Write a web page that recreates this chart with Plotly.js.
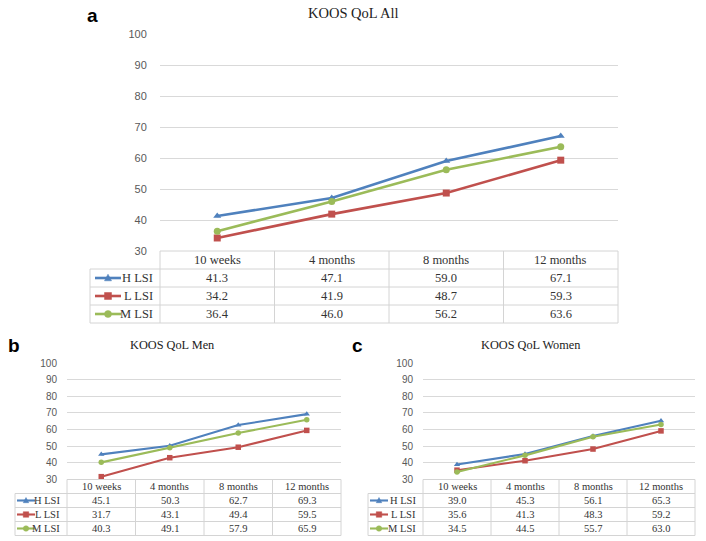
<!DOCTYPE html>
<html><head><meta charset="utf-8">
<script src="https://cdn.plot.ly/plotly-3.0.1.min.js"></script>
<style>html,body{margin:0;padding:0;background:#fff}#chart{width:706px;height:541px}</style>
</head><body><div id="chart"></div><script>
// ---- data ----
const categories = ['10 weeks', '4 months', '8 months', '12 months'];
const seriesNames = ['H LSI', 'L LSI', 'M LSI'];
const allH = [41.3, 47.1, 59.0, 67.1];
const allL = [34.2, 41.9, 48.7, 59.3];
const allM = [36.4, 46.0, 56.2, 63.6];
const menH = [45.1, 50.3, 62.7, 69.3];
const menL = [31.7, 43.1, 49.4, 59.5];
const menM = [40.3, 49.1, 57.9, 65.9];
const womenH = [39.0, 45.3, 56.1, 65.3];
const womenL = [35.6, 41.3, 48.3, 59.2];
const womenM = [34.5, 44.5, 55.7, 63.0];
const yTicks = [30, 40, 50, 60, 70, 80, 90, 100];
const panelTitles = ['KOOS QoL All', 'KOOS QoL Men', 'KOOS QoL Women'];
const panelLetters = ['a', 'b', 'c'];

// ---- styling ----
const colors = ['#4F81BD', '#C0504D', '#9BBB59'];
const symbols = ['triangle-up', 'square', 'circle'];
const W = 706, H = 541;
const px = x => x / W, py = y => 1 - y / H;
const SERIF = '"Liberation Serif", "Times New Roman", serif';
const SANS = '"Liberation Sans", Arial, sans-serif';
const GRID = '#D9D9D9', BORDER = '#D4D4D4', TXT = '#333333';

const panels = [
  {data: [allH, allL, allM], x0: 160, x1: 618, yTop: 34, yBot: 251, legL: 90, rowH: 18,
   lw: 2.6, ms: 7, tickSize: 11, tabSize: 12.5, titleSize: 14.5, titleX: 353, titleY: 13,
   letterX: 92, letterY: 15, standoff: 10, keyLen: 26, keyGap: 5},
  {data: [menH, menL, menM], x0: 67, x1: 341, yTop: 363, yBot: 479.5, legL: 15, rowH: 14,
   lw: 2.1, ms: 5.5, tickSize: 10, tabSize: 10.5, titleSize: 12.3, titleX: 172, titleY: 345,
   letterX: 14, letterY: 345, standoff: 7, keyLen: 18, keyGap: 2},
  {data: [womenH, womenL, womenM], x0: 423, x1: 695, yTop: 363, yBot: 479.5, legL: 368, rowH: 14,
   lw: 2.1, ms: 5.5, tickSize: 10, tabSize: 10.5, titleSize: 12.3, titleX: 530, titleY: 345,
   letterX: 358, letterY: 345, standoff: 7, keyLen: 18, keyGap: 2}
];

const traces = [], shapes = [], annotations = [];
const layout = {
  width: W, height: H, margin: {l: 0, r: 0, t: 0, b: 0},
  paper_bgcolor: '#fff', plot_bgcolor: '#fff', showlegend: false,
  shapes, annotations
};

panels.forEach((p, i) => {
  const n = i === 0 ? '' : String(i + 1);
  const xa = 'x' + n, ya = 'y' + n;
  layout['xaxis' + n] = {
    domain: [px(p.x0), px(p.x1)], type: 'category', categoryorder: 'array',
    categoryarray: categories, range: [-0.5, categories.length - 0.5],
    visible: false, anchor: ya, fixedrange: true
  };
  layout['yaxis' + n] = {
    domain: [py(p.yBot), py(p.yTop)], range: [30, 100], anchor: xa,
    tickvals: yTicks, ticks: 'outside', ticklen: p.standoff, tickcolor: 'rgba(0,0,0,0)',
    showgrid: true, gridcolor: GRID, gridwidth: 1, zeroline: false, showline: false,
    tickfont: {family: SANS, size: p.tickSize, color: '#595959'}, fixedrange: true
  };
  p.data.forEach((vals, s) => {
    traces.push({
      type: 'scatter', mode: 'lines+markers', x: categories, y: vals,
      xaxis: xa, yaxis: ya, name: seriesNames[s], cliponaxis: false,
      line: {color: colors[s], width: p.lw},
      marker: {color: colors[s], symbol: symbols[s], size: p.ms}
    });
  });

  // title & letter
  annotations.push({xref: 'paper', yref: 'paper', x: px(p.titleX), y: py(p.titleY),
    text: panelTitles[i], showarrow: false, xanchor: 'center', yanchor: 'middle',
    font: {family: SERIF, size: p.titleSize, color: '#222'}});
  annotations.push({xref: 'paper', yref: 'paper', x: px(p.letterX), y: py(p.letterY),
    text: '<b>' + panelLetters[i] + '</b>', showarrow: false, xanchor: 'center', yanchor: 'middle',
    font: {family: SANS, size: 19, color: '#000'}});

  // table grid
  const rows = [p.yBot, p.yBot + p.rowH, p.yBot + 2 * p.rowH, p.yBot + 3 * p.rowH, p.yBot + 4 * p.rowH];
  const line = (xA, yA, xB, yB) => shapes.push({type: 'line', xref: 'paper', yref: 'paper',
    x0: px(xA), y0: py(yA), x1: px(xB), y1: py(yB), line: {color: BORDER, width: 1}});
  line(p.x0, rows[0], p.x1, rows[0]);
  for (let r = 1; r < rows.length; r++) line(p.legL, rows[r], p.x1, rows[r]);
  line(p.legL, rows[1], p.legL, rows[4]);
  const colW = (p.x1 - p.x0) / categories.length;
  for (let c = 0; c <= categories.length; c++) line(p.x0 + c * colW, rows[0], p.x0 + c * colW, rows[4]);

  // header
  categories.forEach(cat => annotations.push({xref: xa, yref: 'paper', x: cat,
    y: py((rows[0] + rows[1]) / 2), text: cat, showarrow: false, xanchor: 'center', yanchor: 'middle',
    font: {family: SERIF, size: p.tabSize, color: TXT}}));
  // rows
  p.data.forEach((vals, s) => {
    const yc = (rows[s + 1] + rows[s + 2]) / 2;
    vals.forEach((v, k) => annotations.push({xref: xa, yref: 'paper', x: categories[k],
      y: py(yc), text: v.toFixed(1), showarrow: false, xanchor: 'center', yanchor: 'middle',
      font: {family: SERIF, size: p.tabSize, color: TXT}}));
    // legend label
    annotations.push({xref: 'paper', yref: 'paper', x: px(p.x0 - 5), y: py(yc),
      text: seriesNames[s], showarrow: false, xanchor: 'right', yanchor: 'middle',
      font: {family: SERIF, size: p.tabSize, color: TXT}});
    // legend key
    const kx0 = p.legL + p.keyGap, kx1 = kx0 + p.keyLen, kc = (kx0 + kx1) / 2;
    shapes.push({type: 'line', xref: 'paper', yref: 'paper', x0: px(kx0), x1: px(kx1),
      y0: py(yc), y1: py(yc), line: {color: colors[s], width: p.lw}});
    const r = p.ms / 2;
    if (s === 0) {
      shapes.push({type: 'path', xref: 'paper', yref: 'paper',
        path: `M ${px(kc - r)} ${py(yc + r * 0.8)} L ${px(kc + r)} ${py(yc + r * 0.8)} L ${px(kc)} ${py(yc - r * 1.1)} Z`,
        fillcolor: colors[s], line: {color: colors[s], width: 0.5}});
    } else if (s === 1) {
      shapes.push({type: 'rect', xref: 'paper', yref: 'paper', x0: px(kc - r), x1: px(kc + r),
        y0: py(yc + r), y1: py(yc - r), fillcolor: colors[s], line: {color: colors[s], width: 0.5}});
    } else {
      shapes.push({type: 'circle', xref: 'paper', yref: 'paper', x0: px(kc - r), x1: px(kc + r),
        y0: py(yc + r), y1: py(yc - r), fillcolor: colors[s], line: {color: colors[s], width: 0.5}});
    }
  });
});

Plotly.newPlot('chart', traces, layout, {staticPlot: true, displayModeBar: false});
</script></body></html>
